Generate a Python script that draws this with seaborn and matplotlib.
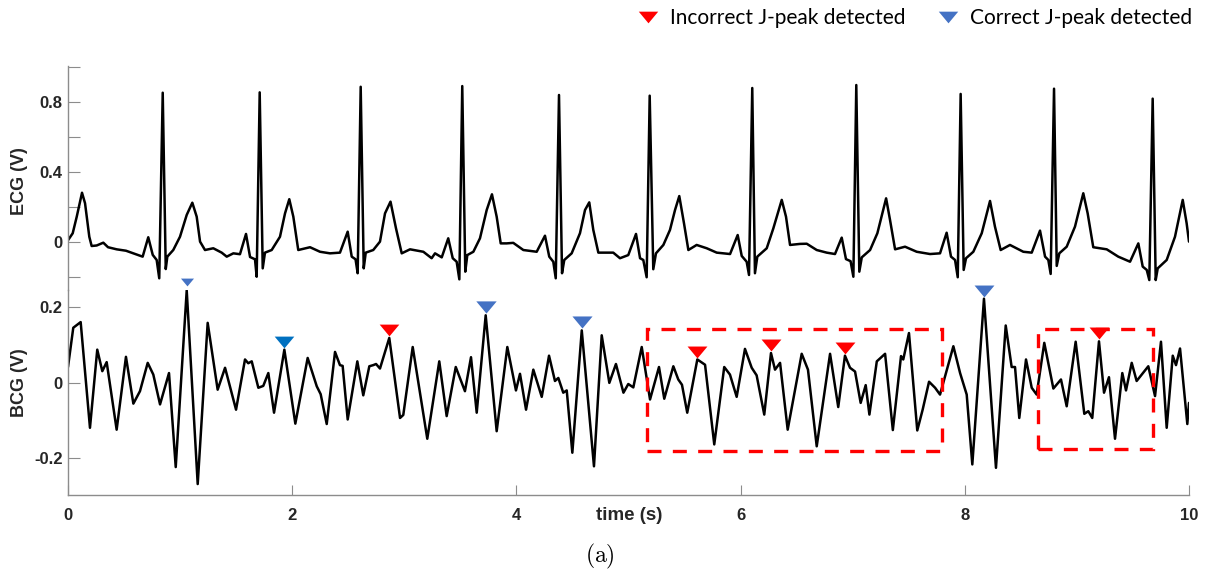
import matplotlib
matplotlib.use("Agg")
import matplotlib.pyplot as plt
import seaborn as sns
import pandas as pd
from matplotlib.lines import Line2D
from matplotlib.patches import Rectangle

# ---------------------------------------------------------------- data ----
# ECG trace: time (s) and voltage (V)
ecg_t = [0.000, 0.042, 0.078, 0.125, 0.152, 0.190, 0.211, 0.256, 0.315, 0.357,
         0.434, 0.517, 0.583, 0.666,
         0.716, 0.756, 0.791, 0.814, 0.845, 0.872, 0.886, 0.939, 0.999, 1.059,
         1.109, 1.148, 1.178, 1.222, 1.296, 1.371, 1.416, 1.475, 1.534,
         1.588, 1.624, 1.668, 1.683, 1.710, 1.737, 1.757, 1.817, 1.891, 1.936,
         1.974, 2.010, 2.054, 2.159, 2.248, 2.337, 2.426,
         2.495, 2.531, 2.565, 2.584, 2.611, 2.638, 2.656, 2.723, 2.783, 2.828,
         2.877, 2.926, 2.977, 3.051, 3.170, 3.244, 3.274, 3.334,
         3.392, 3.432, 3.467, 3.491, 3.517, 3.544, 3.562, 3.616, 3.675, 3.735,
         3.782, 3.824, 3.860, 3.913, 3.972, 4.062, 4.181,
         4.255, 4.293, 4.329, 4.351, 4.380, 4.407, 4.427, 4.493, 4.567, 4.612,
         4.650, 4.686, 4.731, 4.864, 4.924, 4.998,
         5.067, 5.103, 5.132, 5.162, 5.189, 5.221, 5.245, 5.311, 5.370, 5.415,
         5.453, 5.495, 5.534, 5.608, 5.698, 5.787, 5.906,
         5.974, 6.010, 6.054, 6.075, 6.104, 6.128, 6.149, 6.233, 6.292, 6.367,
         6.405, 6.441, 6.530, 6.590, 6.679, 6.768, 6.842,
         6.902, 6.940, 6.981, 7.006, 7.032, 7.059, 7.081, 7.155, 7.220, 7.298,
         7.333, 7.378, 7.467, 7.571, 7.690, 7.779,
         7.838, 7.877, 7.913, 7.937, 7.963, 7.990, 8.011, 8.076, 8.151, 8.225,
         8.269, 8.320, 8.403, 8.522, 8.597,
         8.671, 8.716, 8.745, 8.766, 8.796, 8.820, 8.843, 8.909, 8.983, 9.057,
         9.096, 9.146, 9.266, 9.369, 9.474,
         9.548, 9.587, 9.623, 9.646, 9.676, 9.703, 9.721, 9.801, 9.875, 9.944,
         9.979, 10.000]
ecg_v = [0.010, 0.050, 0.145, 0.282, 0.222, 0.030, -0.023, -0.020, -0.004, -0.030,
         -0.042, -0.050, -0.065, -0.084,
         0.027, -0.074, -0.103, -0.208, 0.855, -0.155, -0.084, -0.046, 0.030, 0.155,
         0.225, 0.145, 0.002, -0.046, -0.036, -0.061, -0.084, -0.065, -0.070,
         0.046, -0.086, -0.099, -0.199, 0.857, -0.151, -0.061, -0.046, 0.030, 0.164,
         0.245, 0.145, -0.046, -0.030, -0.056, -0.065, -0.061,
         0.059, -0.084, -0.099, -0.179, 0.889, -0.151, -0.061, -0.046, 0.002, 0.164,
         0.231, 0.078, -0.065, -0.042, -0.056, -0.093, -0.065, -0.088,
         0.021, -0.093, -0.113, -0.214, 0.893, -0.170, -0.075, -0.056, 0.021, 0.183,
         0.273, 0.145, -0.008, -0.008, -0.005, -0.046, -0.056,
         0.036, -0.084, -0.113, -0.208, 0.842, -0.179, -0.103, -0.065, 0.050, 0.183,
         0.227, 0.069, -0.061, -0.061, -0.093, -0.075,
         0.046, -0.093, -0.103, -0.202, 0.838, -0.156, -0.065, -0.017, 0.069, 0.183,
         0.263, 0.107, -0.046, -0.017, -0.036, -0.061, -0.069,
         0.040, -0.080, -0.113, -0.189, 0.882, -0.179, -0.084, -0.036, 0.078, 0.241,
         0.145, -0.017, -0.011, -0.010, -0.046, -0.061, -0.069,
         0.025, -0.098, -0.110, -0.199, 0.899, -0.170, -0.088, -0.046, 0.050, 0.250,
         0.126, -0.042, -0.027, -0.056, -0.069, -0.065,
         0.053, -0.084, -0.103, -0.202, 0.848, -0.160, -0.093, -0.056, 0.050, 0.235,
         0.088, -0.046, -0.017, -0.056, -0.061,
         0.065, -0.084, -0.103, -0.183, 0.878, -0.137, -0.065, -0.027, 0.088, 0.279,
         0.164, -0.030, -0.042, -0.084, -0.113,
         -0.008, -0.141, -0.160, -0.218, 0.821, -0.218, -0.151, -0.103, 0.030, 0.241,
         0.107, 0.002]

# BCG trace: time (s) and voltage (V)
bcg_t = [0.000, 0.047, 0.113, 0.196, 0.261, 0.306, 0.345, 0.434, 0.517, 0.583,
         0.642, 0.711, 0.761, 0.821, 0.901, 0.961, 1.059, 1.157, 1.246, 1.335,
         1.401, 1.499, 1.579, 1.608, 1.639, 1.698, 1.742, 1.787, 1.838, 1.930,
         2.028, 2.138, 2.219, 2.254, 2.308, 2.382, 2.426, 2.450, 2.495, 2.581,
         2.634, 2.688, 2.723, 2.748, 2.783, 2.866, 2.962, 2.991, 3.075, 3.205,
         3.312, 3.378, 3.459, 3.541, 3.595, 3.646, 3.726, 3.824, 3.919, 3.996,
         4.032, 4.086, 4.151, 4.226, 4.291, 4.344, 4.374, 4.418, 4.449, 4.499,
         4.583, 4.692, 4.761, 4.829, 4.888, 4.955, 4.998, 5.043, 5.118, 5.192,
         5.272, 5.319, 5.400, 5.444, 5.477, 5.524, 5.614, 5.683, 5.765, 5.854,
         5.905, 5.965, 6.039, 6.099, 6.143, 6.211, 6.271, 6.307, 6.352, 6.420,
         6.545, 6.601, 6.679, 6.798, 6.871, 6.931, 6.976, 7.021, 7.071, 7.116,
         7.149, 7.215, 7.289, 7.358, 7.431, 7.451, 7.502, 7.576, 7.624, 7.681,
         7.735, 7.779, 7.898, 7.958, 8.017, 8.067, 8.171, 8.278, 8.365, 8.418,
         8.448, 8.486, 8.546, 8.597, 8.641, 8.709, 8.790, 8.858, 8.909, 8.989,
         9.066, 9.102, 9.137, 9.197, 9.242, 9.286, 9.340, 9.405, 9.438, 9.489,
         9.533, 9.578, 9.637, 9.697, 9.750, 9.801, 9.855, 9.884, 9.920, 9.985,
         10.000]
bcg_v = [0.042, 0.146, 0.161, -0.119, 0.088, 0.031, 0.055, -0.124, 0.069, -0.055,
         -0.022, 0.053, 0.022, -0.057, 0.026, -0.223, 0.245, -0.268, 0.159, -0.018,
         0.040, -0.071, 0.062, 0.052, 0.057, -0.013, -0.008, 0.026, -0.079, 0.088,
         -0.108, 0.066, -0.009, -0.030, -0.109, 0.082, 0.047, 0.045, -0.097, 0.057,
         -0.033, 0.044, 0.047, 0.050, 0.038, 0.119, -0.093, -0.085, 0.095, -0.148,
         0.057, -0.088, 0.042, -0.022, 0.068, -0.079, 0.179, -0.128, 0.095, -0.020,
         0.024, -0.071, 0.035, -0.037, 0.072, 0.005, 0.013, -0.026, -0.020, -0.185,
         0.139, -0.221, 0.126, 0.000, 0.050, -0.026, -0.003, -0.012, 0.095, -0.044,
         0.042, -0.042, 0.044, 0.009, -0.005, -0.079, 0.062, 0.048, -0.163, 0.042,
         0.022, -0.037, 0.090, 0.040, 0.020, -0.084, 0.079, 0.035, 0.053, -0.124,
         0.077, 0.035, -0.168, 0.077, -0.064, 0.072, 0.040, 0.030, -0.053, -0.006,
         -0.084, 0.057, 0.077, -0.125, 0.071, 0.062, 0.132, -0.126, -0.071, 0.003,
         -0.013, -0.031, 0.097, 0.026, -0.031, -0.216, 0.223, -0.225, 0.152, 0.042,
         0.042, -0.093, 0.062, -0.013, -0.031, 0.106, -0.015, 0.009, -0.062, 0.109,
         -0.082, -0.075, -0.093, 0.110, -0.026, 0.015, -0.148, 0.026, -0.020, 0.053,
         0.005, 0.022, 0.044, -0.035, 0.109, -0.119, 0.072, 0.047, 0.091, -0.109,
         -0.053]

# J-peaks picked by the detector on the BCG trace
jpeak_t = [1.059, 1.930, 2.866, 3.726, 4.583, 5.614, 6.271, 6.931, 8.171, 9.197]
jpeak_v = [0.245, 0.088, 0.119, 0.179, 0.139, 0.062, 0.079, 0.072, 0.223, 0.110]
jpeak_correct = [True, True, False, True, True, False, False, False, True, False]

# Stretches of the recording with wrong detections (time range, voltage range)
bad_t = [(5.165, 7.794), (8.655, 9.681)]
bad_v = [(-0.181, 0.143), (-0.176, 0.143)]

ecg_ticks = [-0.2, 0.0, 0.2, 0.4, 0.6, 0.8, 1.0]
ecg_ticklabels = ["", "0", "", "0.4", "", "0.8", ""]
bcg_ticks = [-0.2, 0.0, 0.2]
bcg_ticklabels = ["-0.2", "0", "0.2"]
time_ticks = [0, 2, 4, 6, 8, 10]
time_ticklabels = ["0", "2", "4", "6", "8", "10"]
legend_labels = ["Incorrect J-peak detected", "Correct J-peak detected"]

# --------------------------------------------------------------- style ----
RED = "#FF0000"
BLUE = "#4472C4"
marker_colors = [BLUE, "#0070C0", RED, BLUE, BLUE, RED, RED, RED, BLUE, RED]
marker_sizes = [88, 200, 200, 215, 210, 205, 205, 205, 205, 205]
TRI = [(-1.0, 0.6), (1.0, 0.6), (0.0, -0.6), (-1.0, 0.6)]   # flat down-pointing triangle

sns.set_theme(style="white")
plt.rcParams["font.family"] = ["Liberation Sans", "DejaVu Sans"]
plt.rcParams["mathtext.fontset"] = "cm"

W, H = 1209, 577
fig = plt.figure(figsize=(W / 100, H / 100), dpi=100)
ax_e = fig.add_axes([68 / W, 1 - 290 / H, 1121 / W, 224 / H])
ax_b = fig.add_axes([68 / W, 1 - 495 / H, 1121 / W, 205 / H])

ecg = pd.DataFrame({"t": ecg_t, "v": ecg_v})
bcg = pd.DataFrame({"t": bcg_t, "v": bcg_v})
sns.lineplot(data=ecg, x="t", y="v", ax=ax_e, color="black", lw=1.8,
             sort=False, estimator=None)
sns.lineplot(data=bcg, x="t", y="v", ax=ax_b, color="black", lw=1.8,
             sort=False, estimator=None)

# J-peak markers sit just above the detected peaks
for t, v, c, s in zip(jpeak_t, jpeak_v, marker_colors, marker_sizes):
    sns.scatterplot(x=[t], y=[v + 0.021], ax=ax_b, marker=TRI, s=s, color=c,
                    linewidth=0, clip_on=False, zorder=5, legend=False)

for (t0, t1), (v0, v1) in zip(bad_t, bad_v):
    ax_b.add_patch(Rectangle((t0, v0), t1 - t0, v1 - v0, fill=False,
                             ec=RED, lw=2.4, ls=(0, (4.2, 3.4)), clip_on=False,
                             zorder=4))

GRAY = "#8c8c8c"
TXT = "#262626"
for ax in (ax_e, ax_b):
    ax.set_facecolor("none")
    ax.set_xlim(0, 10)
    ax.set_xlabel("")
    ax.set_ylabel("")
    for side in ("top", "right"):
        ax.spines[side].set_visible(False)
    ax.spines["left"].set_color(GRAY)
    ax.spines["left"].set_linewidth(1.0)

ax_e.set_ylim(-0.275, 1.008)
ax_e.spines["bottom"].set_visible(False)
ax_e.set_xticks([])
ax_e.set_yticks(ecg_ticks)
ax_e.set_yticklabels(ecg_ticklabels)

ax_b.set_ylim(-0.297, 0.246)
ax_b.spines["bottom"].set_color(GRAY)
ax_b.spines["bottom"].set_linewidth(1.0)
ax_b.set_yticks(bcg_ticks)
ax_b.set_yticklabels(bcg_ticklabels)
ax_b.set_xticks(time_ticks)
ax_b.set_xticklabels(time_ticklabels)

for ax in (ax_e, ax_b):
    ax.tick_params(axis="y", direction="in", length=8.5, width=0.8, color=GRAY,
                   labelsize=12, labelcolor=TXT, pad=4, left=True)
    ax.tick_params(axis="x", direction="in", length=7, width=0.8, color=GRAY,
                   labelsize=12, labelcolor=TXT, pad=9, bottom=True)
    for lbl in ax.get_xticklabels() + ax.get_yticklabels():
        lbl.set_fontweight("bold")

fig.text(20 / W, 1 - 181 / H, "ECG (V)", rotation=90, ha="center", va="center",
         fontsize=13, fontweight="bold", color=TXT)
fig.text(20 / W, 1 - 383 / H, "BCG (V)", rotation=90, ha="center", va="center",
         fontsize=13, fontweight="bold", color=TXT)
fig.text(629 / W, 1 - 515 / H, "time (s)", ha="center", va="center",
         fontsize=13.5, fontweight="bold", color=TXT)
fig.text(600 / W, 1 - 556 / H, r"$\mathrm{(a)}$", ha="center", va="center",
         fontsize=17, color="black")

handles = [Line2D([], [], marker=TRI, ls="none", color=RED, ms=14, mew=0),
           Line2D([], [], marker=TRI, ls="none", color=BLUE, ms=14, mew=0)]
fig.legend(handles, legend_labels, loc="center left",
           bbox_to_anchor=(637.6 / W, 1 - 18 / H), ncol=2, frameon=False,
           prop={"family": ["Lato", "DejaVu Sans"], "size": 15},
           handlelength=1.0, handletextpad=0.555, columnspacing=1.54,
           borderpad=0, borderaxespad=0, labelcolor="black")

fig.savefig("out.png", dpi=100)
